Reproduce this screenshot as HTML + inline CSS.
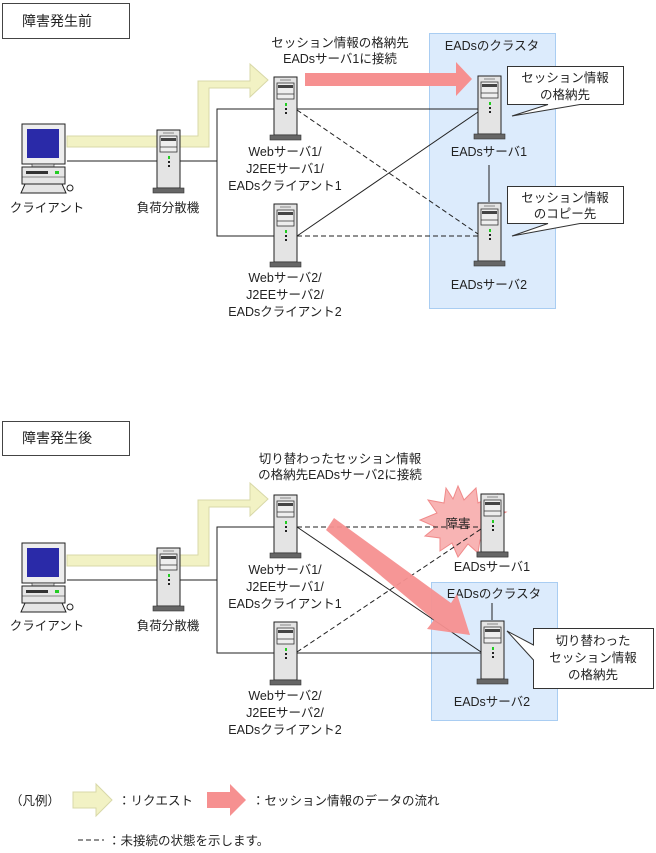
<!DOCTYPE html>
<html><head><meta charset="utf-8"><style>
body{margin:0;background:#fff}
svg{display:block}
text{font-family:"Liberation Sans","Noto Sans CJK JP",sans-serif;font-size:12.5px;fill:#222}
</style></head><body>
<svg width="656" height="853" viewBox="0 0 656 853" xmlns="http://www.w3.org/2000/svg">
<defs>
<g id="srv">
<rect x="0" y="0" width="23" height="58" fill="#e4e4e4" stroke="#222" stroke-width="1"/>
<line x1="6" y1="3" x2="17" y2="3" stroke="#888"/>
<rect x="3" y="6" width="17" height="16" fill="#eee" stroke="#333" stroke-width="0.8"/>
<rect x="4" y="8" width="15" height="3" fill="#444"/>
<line x1="3" y1="17" x2="20" y2="17" stroke="#333" stroke-width="0.8"/>
<rect x="11" y="26" width="2" height="3" fill="#2c2"/>
<rect x="11" y="31" width="2" height="2" fill="#222"/>
<rect x="11" y="35" width="2" height="2" fill="#222"/>
<rect x="-4" y="58" width="31" height="5" fill="#666" stroke="#333" stroke-width="0.6"/>
</g>
<g id="pc">
<rect x="0" y="0" width="43" height="40" fill="#eee" stroke="#222"/>
<rect x="5" y="5" width="32" height="29" fill="#2a2aa8"/>
<rect x="10" y="40" width="22" height="3" fill="#ccc" stroke="#222" stroke-width="0.6"/>
<rect x="0" y="43" width="43" height="17" fill="#e6e6e6" stroke="#222"/>
<rect x="4" y="47" width="22" height="3" fill="#333"/>
<rect x="33" y="47" width="4" height="3" fill="#2c2"/>
<line x1="0" y1="53" x2="43" y2="53" stroke="#222" stroke-width="0.6"/>
<polygon points="3,60 40,60 44,69 -1,69" fill="#e6e6e6" stroke="#222"/>
<circle cx="48" cy="64" r="3" fill="#fff" stroke="#222"/>
</g>
</defs>

<!-- ===== TOP ===== -->
<rect x="2.5" y="3.5" width="127" height="35" fill="#fff" stroke="#444"/>
<text x="22" y="26" style="font-size:14px">障害発生前</text>

<rect x="429.5" y="33.5" width="126" height="275" fill="#dcebfc" stroke="#a9cdf2"/>
<text x="492" y="50" text-anchor="middle">EADsのクラスタ</text>

<polygon points="67,136 198,136 198,81 250,81 250,64 268,80 250,97 250,88 209,88 209,147 67,147" fill="#f2f2c4" stroke="#d8d8a8"/>
<polygon points="305,73 456,73 456,62 472,79 456,96 456,86 305,86" fill="#f69090"/>
<text x="340" y="47" text-anchor="middle">セッション情報の格納先</text>
<text x="340" y="63" text-anchor="middle">EADsサーバ1に接続</text>

<g stroke="#222" stroke-width="1" fill="none">
<polyline points="67,161 157,161"/>
<polyline points="180,161 217,161"/>
<polyline points="274,109 217,109 217,236 274,236"/>
<line x1="297" y1="109" x2="478" y2="109"/>
<line x1="297" y1="236" x2="478" y2="112"/>
<line x1="297" y1="110" x2="478" y2="234" stroke-dasharray="5,3"/>
<line x1="297" y1="236" x2="478" y2="236" stroke-dasharray="5,3"/>
<line x1="489" y1="165" x2="489" y2="202"/>
</g>

<use href="#pc" x="22" y="124"/>
<use href="#srv" x="157" y="130"/>
<use href="#srv" x="274" y="77"/>
<use href="#srv" x="274" y="204"/>
<use href="#srv" x="478" y="76"/>
<use href="#srv" x="478" y="203"/>

<text x="47" y="212" text-anchor="middle">クライアント</text>
<text x="168" y="212" text-anchor="middle">負荷分散機</text>
<text x="285" y="156" text-anchor="middle">Webサーバ1/</text>
<text x="285" y="173" text-anchor="middle">J2EEサーバ1/</text>
<text x="285" y="190" text-anchor="middle">EADsクライアント1</text>
<text x="285" y="282" text-anchor="middle">Webサーバ2/</text>
<text x="285" y="299" text-anchor="middle">J2EEサーバ2/</text>
<text x="285" y="316" text-anchor="middle">EADsクライアント2</text>
<text x="489" y="156" text-anchor="middle">EADsサーバ1</text>
<text x="489" y="289" text-anchor="middle">EADsサーバ2</text>

<polygon points="507.5,66.5 623.5,66.5 623.5,104.5 580,104.5 512,116 548,104.5 507.5,104.5" fill="#fff" stroke="#333"/>
<text x="565" y="82" text-anchor="middle">セッション情報</text>
<text x="565" y="99" text-anchor="middle">の格納先</text>
<polygon points="507.5,186.5 623.5,186.5 623.5,223.5 580,223.5 512,236 548,223.5 507.5,223.5" fill="#fff" stroke="#333"/>
<text x="565" y="202" text-anchor="middle">セッション情報</text>
<text x="565" y="218" text-anchor="middle">のコピー先</text>

<!-- ===== BOTTOM ===== -->
<rect x="2.5" y="421.5" width="127" height="34" fill="#fff" stroke="#444"/>
<text x="22" y="443" style="font-size:14px">障害発生後</text>

<rect x="431.5" y="582.5" width="126" height="138" fill="#dcebfc" stroke="#a9cdf2"/>
<text x="494" y="598" text-anchor="middle">EADsのクラスタ</text>

<polygon points="67,555 198,555 198,500 250,500 250,483 268,499 250,516 250,507 209,507 209,566 67,566" fill="#f2f2c4" stroke="#d8d8a8"/>
<text x="340" y="463" text-anchor="middle">切り替わったセッション情報</text>
<text x="340" y="479" text-anchor="middle">の格納先EADsサーバ2に接続</text>

<polygon points="458,486 464,500 476,488 478,503 497,494 490,510 506,512 492,520 503,530 489,532 494,545 480,540 478,553 468,544 458,557 452,543 440,551 440,538 425,536 436,527 420,520 437,513 428,500 444,503 446,488 453,499" fill="#f8b4b4" stroke="#f08a8a"/>
<text x="458" y="528" text-anchor="middle">障害</text>

<g stroke="#222" stroke-width="1" fill="none">
<polyline points="67,580 157,580"/>
<polyline points="180,580 217,580"/>
<polyline points="274,527 217,527 217,653 274,653"/>
<line x1="297" y1="653" x2="481" y2="653"/>
<line x1="297" y1="527" x2="481" y2="652"/>
<line x1="297" y1="527" x2="481" y2="527" stroke-dasharray="5,3"/>
<line x1="297" y1="652" x2="481" y2="529" stroke-dasharray="5,3"/>
<line x1="492" y1="603" x2="492" y2="620"/>
</g>

<polygon points="326,530 334,518 451,603 457,594 470,635 427,629 434,620 " fill="#f69090" opacity="0.95"/>

<use href="#pc" x="22" y="543"/>
<use href="#srv" x="157" y="548"/>
<use href="#srv" x="274" y="495"/>
<use href="#srv" x="274" y="622"/>
<use href="#srv" x="481" y="494"/>
<use href="#srv" x="481" y="621"/>

<use href="#srv" x="481" y="494"/>

<text x="47" y="630" text-anchor="middle">クライアント</text>
<text x="168" y="630" text-anchor="middle">負荷分散機</text>
<text x="285" y="574" text-anchor="middle">Webサーバ1/</text>
<text x="285" y="591" text-anchor="middle">J2EEサーバ1/</text>
<text x="285" y="608" text-anchor="middle">EADsクライアント1</text>
<text x="285" y="700" text-anchor="middle">Webサーバ2/</text>
<text x="285" y="717" text-anchor="middle">J2EEサーバ2/</text>
<text x="285" y="734" text-anchor="middle">EADsクライアント2</text>
<text x="492" y="571" text-anchor="middle">EADsサーバ1</text>
<text x="492" y="706" text-anchor="middle">EADsサーバ2</text>

<polygon points="533.5,628.5 653.5,628.5 653.5,688.5 533.5,688.5 533.5,660 507,631 533.5,645" fill="#fff" stroke="#333"/>
<text x="593" y="645" text-anchor="middle">切り替わった</text>
<text x="593" y="662" text-anchor="middle">セッション情報</text>
<text x="593" y="679" text-anchor="middle">の格納先</text>

<!-- legend -->
<text x="10" y="805">（凡例）</text>
<polygon points="73,792 96,792 96,784 112,800 96,816 96,808 73,808" fill="#f2f2c4" stroke="#d8d8a8"/>
<text x="118" y="805">：リクエスト</text>
<polygon points="207,792 230,792 230,784 246,800 230,816 230,808 207,808" fill="#f69090"/>
<text x="252" y="805">：セッション情報のデータの流れ</text>
<line x1="78" y1="840" x2="104" y2="840" stroke="#222" stroke-dasharray="5,3"/>
<text x="108" y="845">：未接続の状態を示します。</text>
</svg>
</body></html>
